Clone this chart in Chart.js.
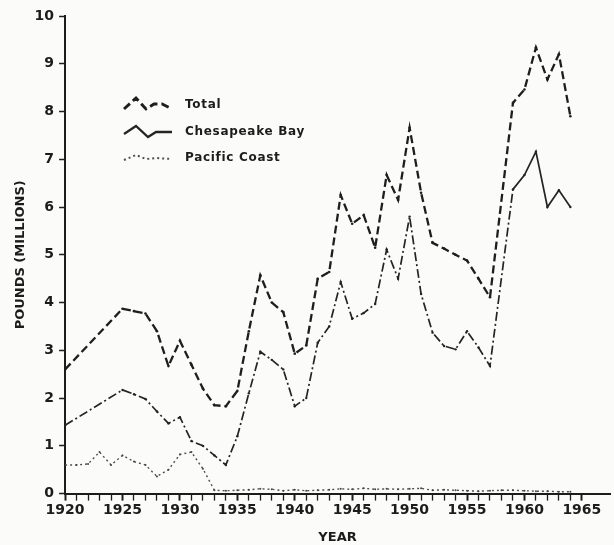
<!DOCTYPE html>
<html>
<head>
<meta charset="utf-8">
<script src="https://cdn.jsdelivr.net/npm/chart.js@4.4.1/dist/chart.umd.min.js"></script>
<style>
    html, body { margin: 0; padding: 0; background: #fbfbfa; }
    #wrap { width: 614px; height: 545px; position: relative; }
</style>
</head>
<body>
<div id="wrap"><canvas id="grafico"></canvas></div>
<script>
// datos (millones de libras)
const years = [];
for (let y = 1920; y <= 1964; y++) years.push(y);

const total = [2.6, null, null, null, null, 3.87, 3.82, 3.77, 3.4, 2.67,
    3.2, 2.7, 2.2, 1.85, 1.83, 2.15, 3.4, 4.57, 4.0, 3.8,
    2.93, 3.1, 4.5, 4.64, 6.25, 5.65, 5.83, 5.15, 6.67, 6.15,
    7.66, 6.3, 5.25, 5.13, 5.0, 4.88, 4.5, 4.11, null, 8.18,
    8.46, 9.34, 8.67, 9.2, 7.9];

const chesapeake = [1.43, null, null, null, null, 2.17, 2.08, 1.98, 1.72, 1.47,
    1.6, 1.1, 1.0, 0.8, 0.6, 1.2, 2.1, 2.97, 2.8, 2.6,
    1.83, 2.0, 3.16, 3.5, 4.43, 3.66, 3.78, 3.97, 5.11, 4.5,
    5.8, 4.18, 3.37, 3.09, 3.02, 3.4, 3.06, 2.67, null, 6.37,
    6.67, 7.16, 6.0, 6.35, 6.0];

const pacific = [0.6, 0.6, 0.62, 0.87, 0.6, 0.8, 0.67, 0.6, 0.36, 0.5,
    0.82, 0.87, 0.52, 0.07, 0.06, 0.07, 0.08, 0.1, 0.09, 0.06,
    0.08, 0.06, 0.07, 0.08, 0.1, 0.09, 0.11, 0.09, 0.1, 0.09,
    0.1, 0.11, 0.07, 0.08, 0.07, 0.06, 0.05, 0.06, 0.07, 0.07,
    0.06, 0.05, 0.05, 0.04, 0.04];

const yTicks = [0, 1, 2, 3, 4, 5, 6, 7, 8, 9, 10];
const seriesNames = ["Total", "Chesapeake Bay", "Pacific Coast"];

const toPoints = (vals) => years.map((y, i) => ({ x: y, y: vals[i] }));

const fuente = "'DejaVu Sans', sans-serif";
const tinta = "#1c1c1c";

// leyenda dibujada dentro del area del grafico
const leyenda = {
    id: "leyenda",
    afterDraw(chart) {
        const ctx = chart.ctx;
        const muestras = [
            [[0, 8], [12, -3], [22, 8], [30, 3], [38, 3], [48, 8]],
            [[0, 6], [12, -2], [24, 9], [32, 4], [48, 4]],
            [[0, 6], [12, 1], [22, 5], [32, 4], [48, 5]]
        ];
        const filas = [105, 132, 158];
        chart.data.datasets.forEach((ds, i) => {
            const x0 = 124, y0 = filas[i] - 4;
            ctx.save();
            ctx.strokeStyle = ds.borderColor;
            ctx.lineWidth = ds.borderWidth + 0.6;
            ctx.setLineDash(i === 1 ? [] : ds.borderDash);
            ctx.beginPath();
            muestras[i].forEach((p, k) => {
                if (k === 0) ctx.moveTo(x0 + p[0], y0 + p[1]);
                else ctx.lineTo(x0 + p[0], y0 + p[1]);
            });
            ctx.stroke();
            ctx.setLineDash([]);
            ctx.fillStyle = tinta;
            ctx.font = "bold 12px " + fuente;
            ctx.textBaseline = "middle";
            ctx.letterSpacing = "0.7px";
            ctx.fillText(seriesNames[i], 185, filas[i]);
            ctx.restore();
        });
    }
};

const ctx = document.getElementById("grafico").getContext("2d");
new Chart(ctx, {
    type: "line",
    data: {
        datasets: [
            {
                label: seriesNames[0],
                data: toPoints(total),
                borderColor: "#1e1e1e",
                borderWidth: 2.3,
                borderDash: [8, 4],
                pointRadius: 1.3,
                pointBackgroundColor: "#1e1e1e",
                pointBorderWidth: 0,
                spanGaps: true,
                tension: 0
            },
            {
                label: seriesNames[1],
                data: toPoints(chesapeake),
                borderColor: "#242424",
                borderWidth: 1.7,
                borderDash: [9, 3, 2, 3],
                segment: {
                    borderDash: c => c.p0.parsed.x >= 1959 ? [] : [9, 3, 2, 3]
                },
                pointRadius: 1.2,
                pointBackgroundColor: "#242424",
                pointBorderWidth: 0,
                spanGaps: true,
                tension: 0
            },
            {
                label: seriesNames[2],
                data: toPoints(pacific),
                borderColor: "#505050",
                borderWidth: 1.4,
                borderDash: [2, 3],
                pointRadius: 1,
                pointBackgroundColor: "#444",
                pointBorderWidth: 0,
                spanGaps: true,
                tension: 0
            }
        ]
    },
    options: {
        responsive: true,
        maintainAspectRatio: false,
        animation: false,
        layout: { padding: { top: 16, right: 0, left: 13, bottom: 0 } },
        plugins: {
            legend: { display: false },
            tooltip: { enabled: false }
        },
        scales: {
            x: {
                type: "linear",
                min: 1920,
                max: 1967.45,
                afterBuildTicks: axis => {
                    axis.ticks = years.concat([1965]).filter(v => v <= 1965).map(v => ({ value: v }));
                },
                ticks: {
                    autoSkip: false,
                    maxRotation: 0,
                    color: tinta,
                    padding: 1,
                    font: { family: fuente, size: 14, weight: "bold" },
                    callback: v => (v % 5 === 0 ? String(v) : "")
                },
                grid: {
                    drawOnChartArea: false,
                    drawTicks: true,
                    tickLength: 7,
                    tickColor: tinta,
                    tickWidth: c => (c.tick && c.tick.value % 5 === 0 ? 2 : 1.3)
                },
                border: { color: tinta, width: 2 },
                title: {
                    display: true,
                    text: "YEAR",
                    color: tinta,
                    font: { family: fuente, size: 13, weight: "bold" },
                    padding: { top: 10, bottom: 0 }
                }
            },
            y: {
                min: 0,
                max: 10,
                afterBuildTicks: axis => {
                    axis.ticks = yTicks.map(v => ({ value: v }));
                },
                ticks: {
                    color: tinta,
                    padding: 5,
                    font: { family: fuente, size: 14, weight: "bold" }
                },
                grid: {
                    drawOnChartArea: false,
                    drawTicks: true,
                    tickLength: 6,
                    tickColor: tinta,
                    tickWidth: 1.5
                },
                border: { color: tinta, width: 2 },
                title: {
                    display: true,
                    text: "POUNDS (MILLIONS)",
                    color: tinta,
                    font: { family: fuente, size: 13, weight: "bold" },
                    padding: { top: 0, bottom: 1 }
                }
            }
        }
    },
    plugins: [leyenda]
});
</script>
</body>
</html>
